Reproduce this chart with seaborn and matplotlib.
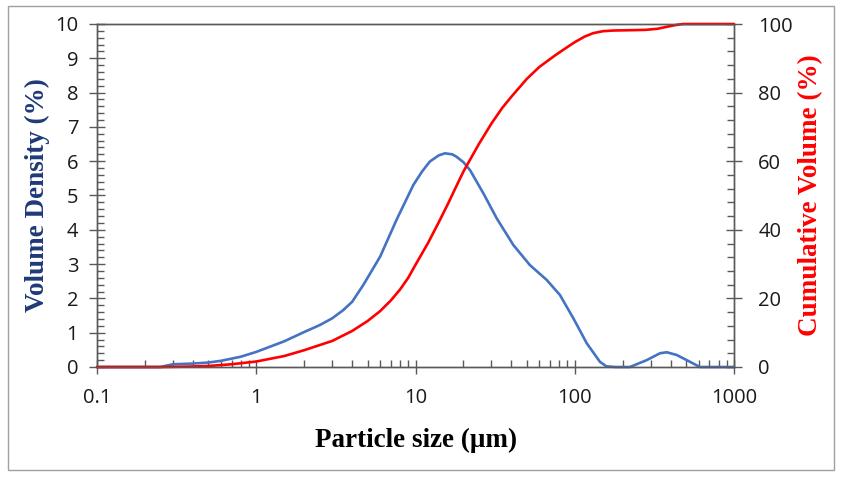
import matplotlib
matplotlib.use("Agg")
import matplotlib.pyplot as plt
import seaborn as sns
import pandas as pd
import numpy as np
from matplotlib.patches import Rectangle
from matplotlib.ticker import LogLocator, MultipleLocator, FixedLocator, NullFormatter, FixedFormatter

# ---- data ----
size_density = [0.1, 0.2, 0.25, 0.28, 0.3, 0.4, 0.5, 0.6, 0.8, 1.0, 1.5, 2.0, 2.5, 3.0, 3.5, 4.0, 4.7, 6.0,
                7.6, 9.7, 11.0, 12.3, 14.0, 15.3, 17.0, 18.1, 20.0, 22.0, 26.7, 32.4, 41.1, 52.3, 66.6, 80.7, 98.0,
                119.0, 144.0, 158.0, 180.0, 222.0, 283.0, 343.0, 378.0, 437.0, 505.0, 611.0, 800.0, 1000.0]
volume_density = [0.0, 0.0, 0.0, 0.05, 0.08, 0.1, 0.13, 0.18, 0.3, 0.44, 0.75, 1.02, 1.22, 1.42, 1.65, 1.9, 2.39, 3.22,
                  4.29, 5.31, 5.7, 5.99, 6.17, 6.23, 6.2, 6.13, 5.97, 5.74, 5.06, 4.33, 3.56, 2.97, 2.54, 2.1, 1.42,
                  0.69, 0.15, 0.02, 0.0, 0.0, 0.2, 0.4, 0.43, 0.35, 0.2, 0.0, 0.0, 0.0]

size_cumulative = [0.1, 0.25, 0.3, 0.4, 0.5, 0.7, 1.0, 1.5, 2.0, 3.0, 4.0, 5.0, 6.0, 7.0, 8.0, 9.0, 10.0,
                   12.0, 14.0, 16.0, 18.0, 20.0, 25.0, 30.0, 35.0, 40.0, 50.0, 60.0, 75.0, 90.0, 100.0,
                   115.0, 130.0, 150.0, 175.0, 230.0, 280.0, 330.0, 380.0, 430.0, 480.0, 1000.0]
cumulative_volume = [0.0, 0.0, 0.05, 0.15, 0.3, 0.8, 1.6, 3.2, 4.9, 7.6, 10.5, 13.4, 16.3, 19.4, 22.6, 26.0, 29.8,
                     36.2, 42.2, 47.6, 52.6, 57.0, 65.0, 71.0, 75.5, 78.8, 84.0, 87.5, 90.8, 93.3, 94.7,
                     96.3, 97.3, 97.9, 98.1, 98.2, 98.3, 98.6, 99.2, 99.7, 100.0, 100.0]

x_ticks = [0.1, 1, 10, 100, 1000]
x_tick_labels = ["0.1", "1", "10", "100", "1000"]
left_ticks = list(range(0, 11))
right_ticks = [0, 20, 40, 60, 80, 100]

df_d = pd.DataFrame({"size": size_density, "density": volume_density})
df_c = pd.DataFrame({"size": size_cumulative, "cum": cumulative_volume})

# ---- figure ----
sns.set_style("white")
W, H = 844, 480
fig = plt.figure(figsize=(W / 100, H / 100), dpi=100)
L, R, T, B = 97, 734, 24, 367
ax = fig.add_axes([L / W, 1 - B / H, (R - L) / W, (B - T) / H])
ax2 = ax.twinx()

tick_font = "Open Sans"
label_font = ["Liberation Serif", "DejaVu Serif"]
spine_col = "#595959"

sns.lineplot(data=df_d, x="size", y="density", ax=ax, color="#4472C4", lw=1.9, sort=False)
sns.lineplot(data=df_c, x="size", y="cum", ax=ax2, color="#FF0000", lw=1.9, sort=False)
for a in (ax, ax2):
    for ln in a.get_lines():
        ln.set_clip_on(False)
        ln.set_solid_joinstyle("round")

ax.set_xscale("log")
ax.set_xlim(0.1, 1000)
ax.set_ylim(0, 10)
ax2.set_ylim(0, 100)

for a in (ax, ax2):
    a.set_xlabel("")
    a.set_ylabel("")
    for s in a.spines.values():
        s.set_color(spine_col)
        s.set_linewidth(1.0)
    a.set_facecolor("none")

# x ticks
ax.xaxis.set_major_locator(FixedLocator(x_ticks))
ax.xaxis.set_major_formatter(FixedFormatter(x_tick_labels))
ax.xaxis.set_minor_locator(LogLocator(base=10, subs=np.arange(2, 10)))
ax.xaxis.set_minor_formatter(NullFormatter())
ax.tick_params(axis="x", which="major", direction="inout", length=10, width=1.0, color=spine_col,
               pad=10, labelsize=14.5, bottom=True, top=False)
ax.tick_params(axis="x", which="minor", direction="in", length=5, width=1.0, color=spine_col,
               bottom=True, top=False)

# left y ticks
ax.yaxis.set_major_locator(FixedLocator(left_ticks))
ax.yaxis.set_minor_locator(MultipleLocator(0.2))
ax.tick_params(axis="y", which="major", direction="inout", length=11, width=1.0, color=spine_col,
               pad=8, labelsize=14.5, left=True, right=False)
ax.tick_params(axis="y", which="minor", direction="in", length=5, width=1.0, color=spine_col,
               left=True, right=False)

# right y ticks
ax2.yaxis.set_major_locator(FixedLocator(right_ticks))
ax2.yaxis.set_minor_locator(MultipleLocator(4))
ax2.tick_params(axis="y", which="major", direction="inout", length=11, width=1.0, color=spine_col,
                pad=12, labelsize=14.5, right=True, left=False)
ax2.tick_params(axis="y", which="minor", direction="in", length=5, width=1.0, color=spine_col,
                right=True, left=False)

for a in (ax, ax2):
    for lab in a.get_xticklabels() + a.get_yticklabels():
        lab.set_fontfamily(tick_font)
        lab.set_color("#1a1a1a")

# axis titles
fig.text(416 / W, 1 - 440 / H, "Particle size (μm)", ha="center", va="center",
         fontsize=19.5, fontweight="bold", family=label_font, color="black")
fig.text(37 / W, 1 - 195 / H, "Volume Density (%)", ha="center", va="center", rotation=90,
         fontsize=19.5, fontweight="bold", family=label_font, color="#1F3A78")
fig.text(811 / W, 1 - 195 / H, "Cumulative Volume (%)", ha="center", va="center", rotation=90,
         fontsize=19.5, fontweight="bold", family=label_font, color="#FF0000")

# outer frame
fig.add_artist(Rectangle((8 / W, 1 - 470 / H), (834 - 8) / W, (470 - 6) / H, transform=fig.transFigure,
                         fill=False, ec="#A0A0A0", lw=1.0))

fig.savefig("out.png", dpi=100, facecolor="white")
